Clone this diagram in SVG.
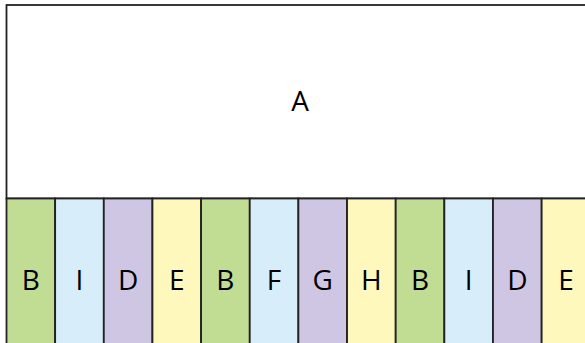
<svg xmlns="http://www.w3.org/2000/svg" width="585" height="343" viewBox="0 0 585 343">
<style>
.box{stroke:#222;stroke-width:1.8}
.t{font-family:"Open Sans","Noto Sans",sans-serif;font-size:28px;fill:#000;text-anchor:middle;dominant-baseline:central}
.g{fill:#c1dc93}.b{fill:#d7eefa}.p{fill:#cfc6e3}.y{fill:#fff8bd}
</style>
<g id="A"><rect class="box" x="6.5" y="5" width="590" height="193.5" fill="#fff"/><text class="t" x="300" y="100">A</text></g>
<g id="strips">
<g id="s1"><rect class="box g" x="6.5" y="198.5" width="48.65" height="160"/><text class="t" x="30.8" y="279">B</text></g>
<g id="s2"><rect class="box b" x="55.15" y="198.5" width="48.65" height="160"/><text class="t" x="79.5" y="279">I</text></g>
<g id="s3"><rect class="box p" x="103.8" y="198.5" width="48.65" height="160"/><text class="t" x="128.1" y="279">D</text></g>
<g id="s4"><rect class="box y" x="152.45" y="198.5" width="48.65" height="160"/><text class="t" x="176.8" y="279">E</text></g>
<g id="s5"><rect class="box g" x="201.1" y="198.5" width="48.65" height="160"/><text class="t" x="225.4" y="279">B</text></g>
<g id="s6"><rect class="box b" x="249.75" y="198.5" width="48.65" height="160"/><text class="t" x="274.1" y="279">F</text></g>
<g id="s7"><rect class="box p" x="298.4" y="198.5" width="48.65" height="160"/><text class="t" x="322.7" y="279">G</text></g>
<g id="s8"><rect class="box y" x="347.05" y="198.5" width="48.65" height="160"/><text class="t" x="371.4" y="279">H</text></g>
<g id="s9"><rect class="box g" x="395.7" y="198.5" width="48.65" height="160"/><text class="t" x="420" y="279">B</text></g>
<g id="s10"><rect class="box b" x="444.35" y="198.5" width="48.65" height="160"/><text class="t" x="468.7" y="279">I</text></g>
<g id="s11"><rect class="box p" x="493" y="198.5" width="48.65" height="160"/><text class="t" x="517.3" y="279">D</text></g>
<g id="s12"><rect class="box y" x="541.65" y="198.5" width="48.65" height="160"/><text class="t" x="566" y="279">E</text></g>
</g>
<g id="connectors"/>
</svg>
